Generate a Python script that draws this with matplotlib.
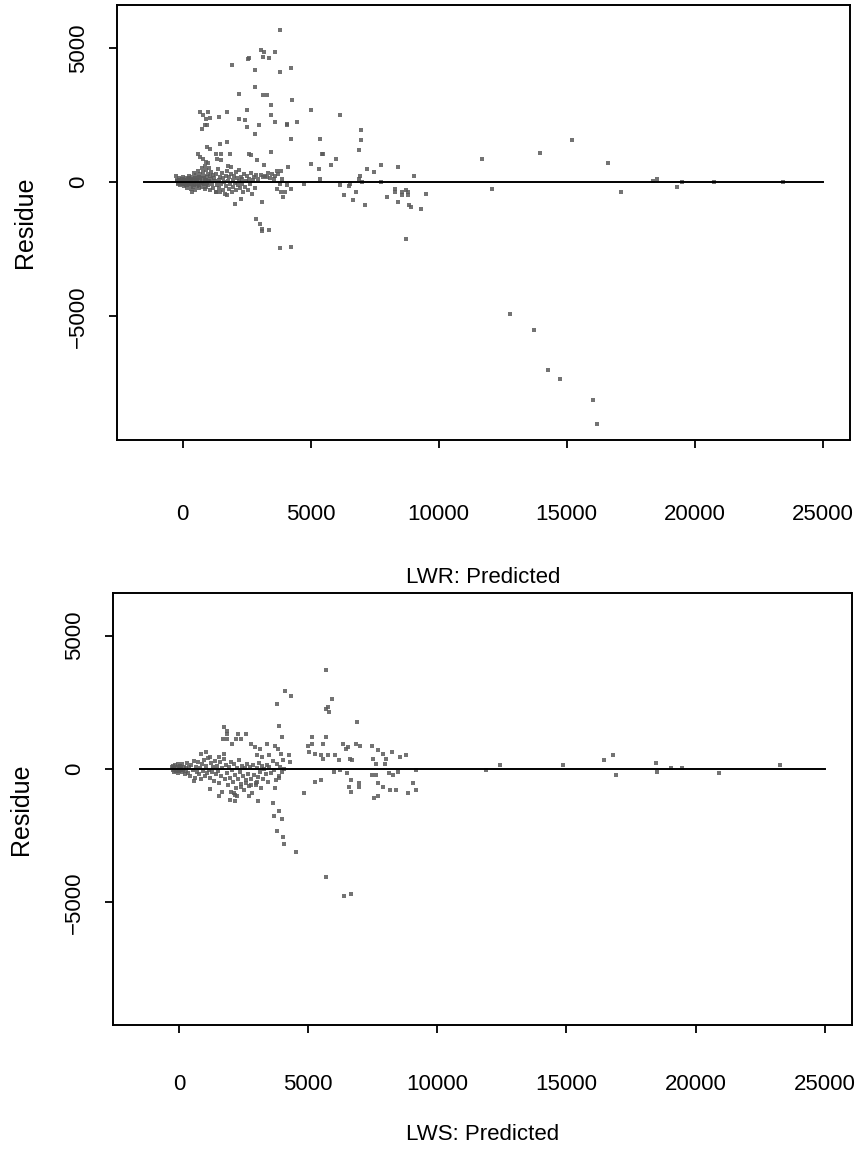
import matplotlib
matplotlib.use("Agg")
import matplotlib.pyplot as plt
from matplotlib import font_manager
import numpy as np

plt.rcParams['font.family'] = ['Liberation Sans', 'DejaVu Sans']

# narrow face for the horizontal texts, when it is installed
try:
    font_manager.findfont('Liberation Sans Narrow', fallback_to_default=False)
    narrow = ['Liberation Sans Narrow', 'Liberation Sans']
    hsize = 20
except ValueError:
    narrow = ['Liberation Sans', 'DejaVu Sans']
    hsize = 16

# ---- LWR panel: predicted vs residue ----
lwr_pred = [3808, 1913, 3063, 3180, 3612, 2566, 2600, 3127, 3377, 2829, 3808, 4224, 2829, 2214,
            3127, 3311, 4278, 3440, 5007, 674, 999, 1732, 2527, 3440, 6159, 803, 909, 1066, 1430,
            2214, 2449, 870, 972, 764, 2527, 2997, 3612, 4094, 4094, 4474, 2829, 4224, 5375, 6954,
            6954, 6903, 948, 1066, 1457, 1716, 3440, 5439, 5490, 607, 674, 803, 933, 999, 1324,
            1497, 1849, 2605, 2657, 1364, 1520, 1768, 1900, 2892, 3193, 4107, 5007, 5309, 5806,
            5988, 5375, 7203, 7464, 7750, 8416, 9031, 6942, 6903, 6994, 7750, 11707, 12074, 4760,
            6159, 6484, 6523, 6786, 6289, 6653, 7139, 7985, 8287, 8287, 8549, 8549, 8731, 8784,
            8784, 8416, 8849, 8926, 9318, 9513, 8718, 3808, 4068, 4224, 3848, 4004, 3911, 3675,
            3115, 2880, 3009, 3115, 3115, 3377, 3808, 4224, 2030, 2292, 1300, 1481, 1732, 372,
            13956, 15221, 16620, 17102, 18383, 18512, 19296, 19492, 20757, 23437, 12792, 13706,
            14254, 14740, 16017, 16201]
lwr_res = [5669, 4361, 4922, 4858, 4858, 4585, 4640, 4671, 4611, 4174, 4111, 4237, 3550, 3303,
           3240, 3240, 3064, 2866, 2680, 2616, 2616, 2616, 2680, 2493, 2493, 2493, 2369, 2407, 2429,
           2369, 2306, 2119, 2119, 1995, 2055, 2119, 2242, 2180, 2119, 2242, 1808, 1622, 1622, 1932,
           1558, 1185, 1308, 1248, 1435, 1495, 1121, 1061, 1061, 1061, 934, 874, 747, 725, 1061,
           1061, 1061, 1061, 998, 874, 811, 620, 560, 811, 624, 561, 687, 500, 624,
           874, 127, 500, 374, 624, 561, 250, 250, 127, 0, 0, 874, -247, -49,
           -112, -149, -60, -359, -486, -673, -860, -546, -247, -359, -359, -486, -299, -359,
           -486, -735, -860, -920, -983, -422, -2104, -49, -112, -235, -359, -359, -546, -235,
           -735, -1357, -1543, -1730, -1830, -1793, -2452, -2415, -797, -610, -359, -359, -486, -359,
           1072, 1570, 699, -359, 64, 127, -172, 26, 26, 26, -4895, -5516,
           -7000, -7310, -8121, -8992]

# dense group of small predictions
lwr_pred_low = [-240, -200, -180, -150, -120, -100, -80, -60, -40, -20, 0, 20, 40, 60, 80, 100, 120,
                140, 160, 180, 200, 220, 240, 260, 280, 300, 320, 340, 360, 380, 400, 420, 440, 460,
                480, 500, 520, 540, 560, 580, 600, 620, 640, 660, 680, 700, 720, 740, 760, 780, 800,
                820, 840, 860, 880, 900, 920, 940, 960, 980, 1000, 1020, 1040, 1060, 1080, 1100, 1120,
                1150, 1180, 1200, 1230, 1260, 1290, 1320, 1350, 1380, 1410, 1440, 1470, 1500, 1530,
                1560, 1590, 1620, 1650, 1680, 1710, 1740, 1770, 1800, 1830, 1860, 1890, 1920, 1950,
                1980, 2010, 2040, 2070, 2100, 2130, 2160, 2190, 2220, 2250, 2280, 2310, 2340, 2370,
                2400, 2430, 2460, 2500, 2540, 2580, 2620, 2660, 2700, 2740, 2780, 2820, 2880, 2960,
                3050, 3150, 3220, 3300, 3350, 3420, 3480, 3560, 3610, 3680, 3740, 3850, 3900,
                -220, -170, -130, -70, -10, 30, 70, 110, 150, 190, 230, 270, 330, 390, 450, 510, 570,
                630, 690, 750, 810, 870, 930, 990]
lwr_res_low = [220, 100, -60, 30, 160, -120, 60, -20, 120, -80, 40, 180, -150, 90, -40, 10, 150,
               -100, 60, -200, 120, -30, 80, 240, -120, 30, -250, 110, -60, 200, -180, 50, 330, -90,
               140, -300, 20, 260, -140, 90, 420, -60, 180, -220, 60, 300, -20, 520, -180, 140, 380,
               -80, 230, 600, -260, 80, 460, -40, 180, 320, -120, 60, 520, -300, 220, 120, 380,
               -60, 260, -200, 160, 40, -380, 300, -120, 480, 100, -220, 200, -60, 360,
               -300, 140, 20, -420, 250, -150, 420, 60, -260, 180, -80, 300, -350, 100,
               -180, 240, -40, 380, -300, 160, -120, 60, 450, -220, 200, -60, 120, -380,
               300, -160, 40, 220, -280, 120, -80, 360, -420, 80, 180, -200, 260, 120,
               280, 200, 230, 180, 350, 160, 290, 130, 230, 420, 320, 400, 120,
               40, -20, 80, 0, 60, -60, 100, 20, -10, 50, -80, 140, 0, 70, -50, 110, 30,
               -100, 150, 0, -40, 90, -160, 30]

# ---- LWS panel ----
lws_pred = [5688, 4107, 4351, 3807, 5932, 5688, 5765, 5804, 3873, 6904, 1748, 1841, 1841, 1686, 1865,
            2281, 2591, 2409, 2214, 3990, 2035, 2797, 2953, 3135, 3395, 3730, 3835, 5144, 4988, 5144,
            5699, 5571, 6348, 6449, 6543, 6854, 7008, 7460, 7707, 7914, 8252, 8563, 8796, 831, 1026,
            1181, 1542, 1737, 3007, 3213, 3485, 3939, 4029, 4262, 4289, 5039, 5272, 5478, 5583, 5777,
            6037, 6177, 6620, 6682, 7525, 7630, 7980, 8003, 12447, 11904, 9157, 4818, 5260, 5505,
            5983, 6232, 6504, 6671, 6593, 6969, 6969, 6671, 7460, 7630, 7707, 7887, 8174, 8407, 7564,
            7707, 8302, 8485, 8120, 9040, 9157, 8858, 3706, 3885, 3628, 3873, 3691, 3990, 3807, 4040,
            4056, 4534, 1193, 1542, 1671, 1970, 2164, 2164, 2253, 1997, 2125, 2708, 3069, 2385, 2580,
            2774, 2968, 3030, 571, 14868, 16450, 16811, 16939, 18454, 18520, 19064, 19491, 20890,
            23260, 5700, 6380, 6650]
lws_res = [3723, 2930, 2744, 2431, 2617, 2245, 2308, 2122, 1627, 1750, 1564, 1441, 1314, 1128, 1128,
           1314, 1314, 1128, 1128, 1191, 942, 942, 819, 756, 942, 881, 756, 1191, 881, 942,
           1191, 942, 942, 756, 819, 942, 881, 881, 695, 570, 633, 447, 510, 570, 633,
           447, 447, 570, 510, 447, 510, 570, 324, 510, 261, 633, 570, 510, 384, 510,
           510, 324, 384, 324, 384, 198, 198, 384, 149, -37, -37, -906, -472, -410,
           -99, -37, -161, -410, -658, -534, -658, -844, -223, -223, -534, -658, -782, -782, -1092,
           -1030, -223, -99, -161, -534, -782, -906, -720, -347, -1267, -1564, -1750, -1874, -2308, -2557,
           -2805, -3115, -757, -1005, -844, -1154, -1191, -968, -1030, -844, -906, -1005, -1191, -658, -534,
           -596, -596, -472, -447, 149, 335, 521, -223, 212, -99, 49, 49, -161,
           149, -4060, -4770, -4680]

lws_pred_low = [-280, -250, -220, -200, -180, -150, -130, -100, -80, -60, -40, -20, 0, 20, 40, 60, 80,
                100, 130, 160, 190, 220, 250, 280, 320, 360, 400, 440, 480, 520, 560, 600, 640, 680,
                720, 760, 800, 840, 880, 920, 960, 1000, 1040, 1080, 1120, 1160, 1200, 1240, 1280,
                1320, 1360, 1400, 1440, 1480, 1520, 1560, 1600, 1640, 1680, 1720, 1760, 1800, 1840,
                1880, 1920, 1960, 2000, 2040, 2080, 2120, 2160, 2200, 2240, 2280, 2320, 2360, 2400,
                2440, 2480, 2520, 2560, 2600, 2640, 2680, 2720, 2760, 2800, 2840, 2880, 2920, 2960,
                3000, 3040, 3080, 3120, 3160, 3200, 3240, 3300, 3350, 3400, 3450, 3500, 3560, 3620,
                3680, 3740, 3800, 3860, 3920, 3980, 4050]
lws_res_low = [60, -40, 120, -100, 20, 160, -60, 80, -20, 200, -140, 40, -80, 120, 0, -40, 60,
               -120, 180, -20, 90, -200, 40, -80, 220, -150, 60, -260, 140, -40, 300, -320, 80, -120,
               260, -200, 20, -380, 180, -60, 340, -260, 100, -160, 400, -20, -320, 220, -100,
               60, -460, 300, -200, 120, -60, -520, 260, -280, 20, 380, -380, 160, -140,
               -600, 80, -320, 260, -40, -480, 180, -220, -700, 40, -380, 320, -120, -560,
               120, -280, -800, 20, -420, 200, -180, -640, 60, -360, -900, 160, -220, -520,
               20, -300, 240, -100, -700, 100, -380, 0, -200, 160, -480, 60, -160, 300,
               -20, -420, 200, -260, 80, -100, 0]

ref_x = [-1500, 25000]
ref_y = [0, 0]
x_ticks = [0, 5000, 10000, 15000, 20000, 25000]
y_ticks = [-5000, 0, 5000]

fig = plt.figure(figsize=(8.59, 11.51), dpi=100)
W, H = 859.0, 1151.0


def panel(box, preds, res, xlabel, label_pad, label_y, ylab_x, ytick_pad):
    l, t, r, b = box
    ax = fig.add_axes([l / W, 1 - b / H, (r - l) / W, (b - t) / H])
    ax.scatter(preds, res, s=5, marker='s', c='#5a5a5a', linewidths=0, alpha=0.85)
    ax.plot(ref_x, ref_y, color='black', lw=1.4)
    ax.set_xlim(-2560, 26060)
    ax.set_ylim(-9600, 6600)
    ax.set_xticks(x_ticks)
    ax.set_xticklabels([str(v) for v in x_ticks], family=narrow, fontsize=hsize)
    ax.set_yticks(y_ticks)
    ax.set_yticklabels(['\u22125000', '0', '5000'], rotation=90, va='center', fontsize=16)
    ax.tick_params(axis='x', direction='out', length=6, width=1.3, pad=label_pad,
                   colors='black')
    ax.tick_params(axis='y', direction='out', length=6, width=1.3, pad=ytick_pad,
                   colors='black')
    for s in ax.spines.values():
        s.set_linewidth(1.4)
    fig.text(((l + r) / 2) / W, 1 - label_y / H, xlabel, ha='center', va='center',
             fontsize=hsize, family=narrow)
    fig.text(ylab_x / W, 1 - ((t + b) / 2) / H, 'Residue', ha='center', va='center',
             rotation=90, fontsize=18)
    return ax


panel((117, 5, 850, 440), lwr_pred + lwr_pred_low, lwr_res + lwr_res_low,
      'LWR: Predicted', 40, 578, 25, 14)
panel((113, 593, 852, 1025), lws_pred + lws_pred_low, lws_res + lws_res_low,
      'LWS: Predicted', 29, 1135, 21, 14)

fig.savefig('out.png', dpi=100)
